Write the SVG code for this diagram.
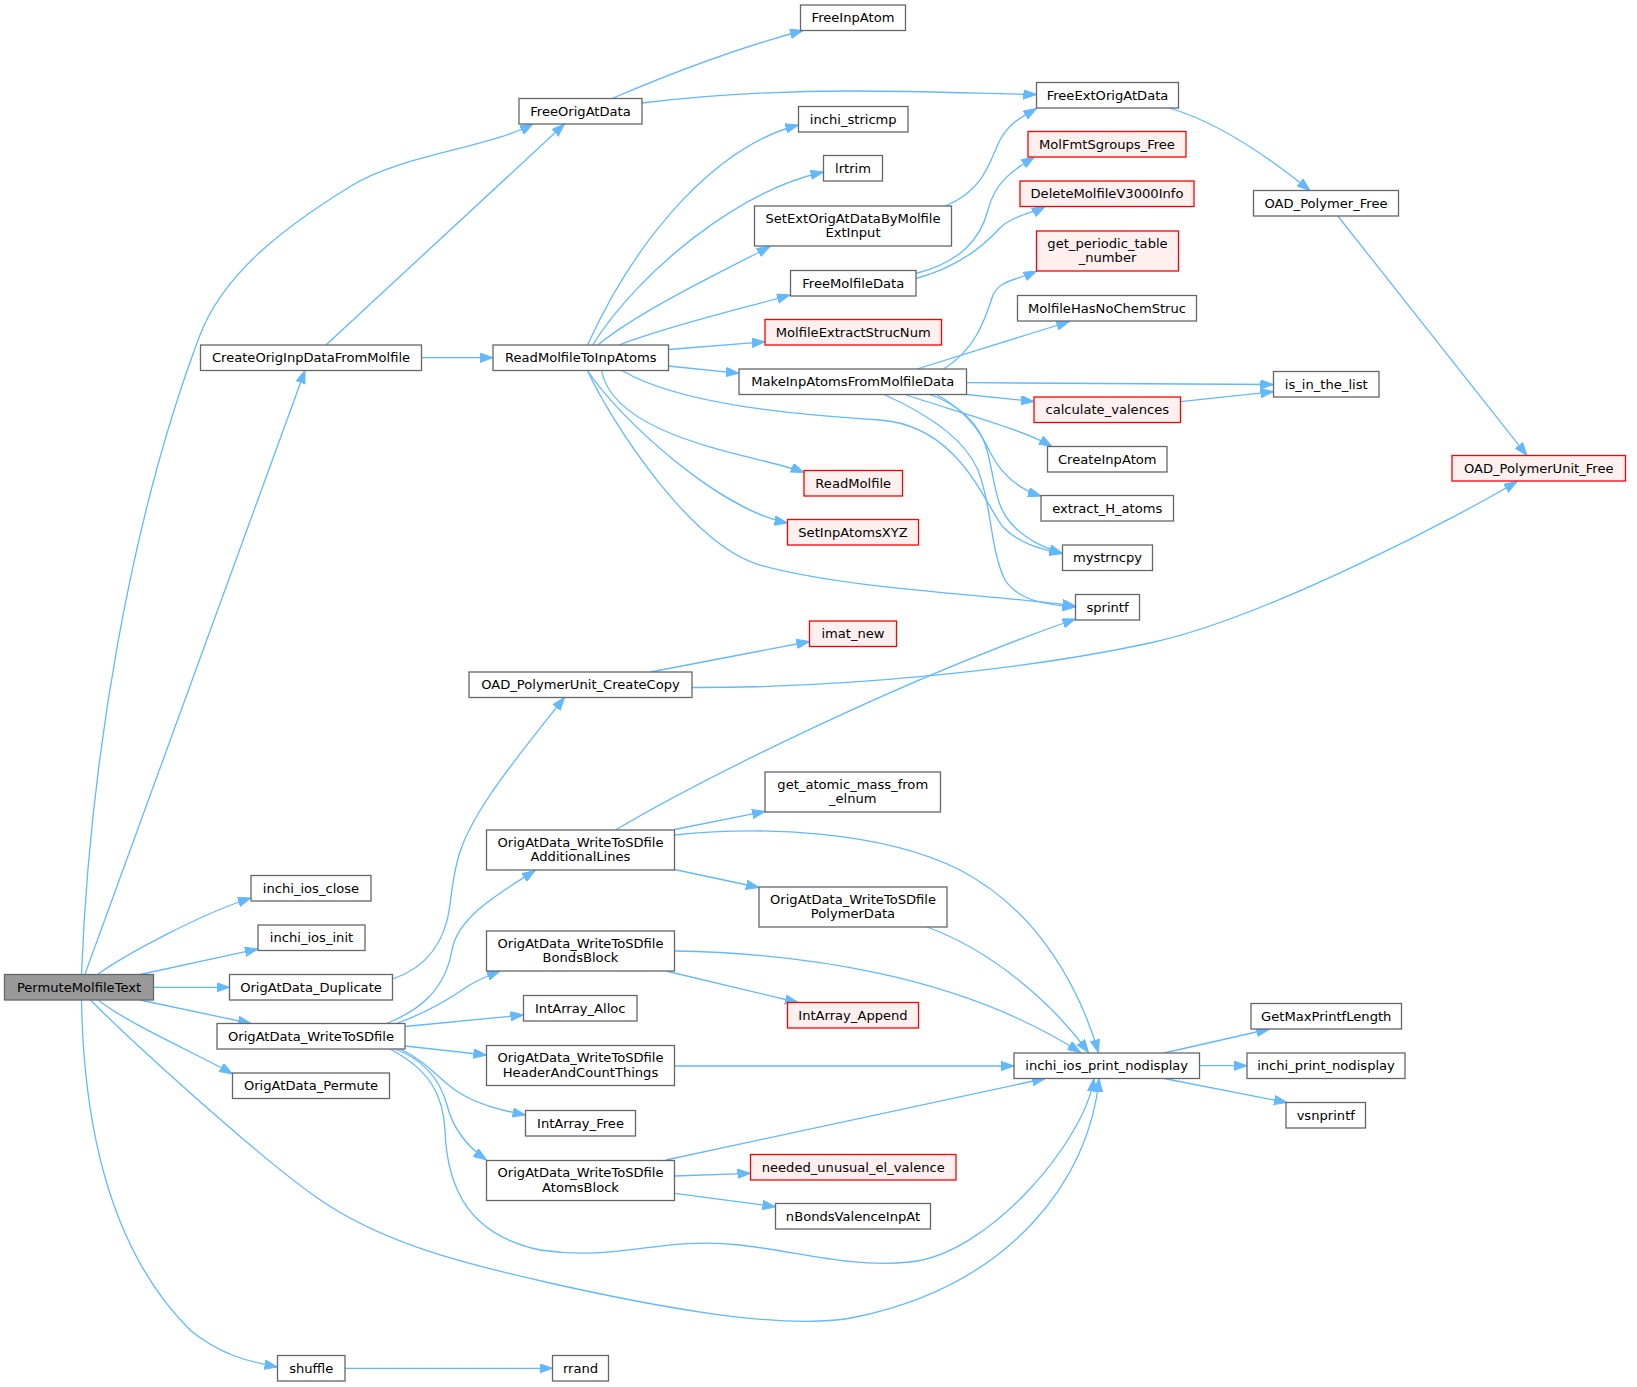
<svg xmlns="http://www.w3.org/2000/svg" width="1637" height="1387" viewBox="0 0 1637 1387">
<defs>
<style>
.n rect{fill:#ffffff;stroke:#666666;stroke-width:1.3}
.r rect{fill:#fff0f0;stroke:#ff0000;stroke-width:1.3}
.root rect{fill:#999999;stroke:#666666;stroke-width:1.3}
text{font-family:"DejaVu Sans","Liberation Sans",sans-serif;font-size:13.1px;text-anchor:middle;fill:#000000}
#edges path{fill:none;stroke:#63b8ff;stroke-width:1.3;marker-end:url(#ah)}
</style>
<marker id="ah" markerWidth="14" markerHeight="10" refX="13" refY="4.7" orient="auto" markerUnits="userSpaceOnUse">
<path d="M0,0 L13,4.7 L0,9.4 z" fill="#63b8ff" stroke="#63b8ff" stroke-width="1"/>
</marker>
</defs>
<rect x="0" y="0" width="1637" height="1387" fill="#ffffff"/>
<g id="edges">
<path d="M81.5,974 C 90,760 130,520 200,335 C 225,270 291,223 351,186 C 401,155 488,148 533,124"/>
<path d="M85,974 L305,370.5"/>
<path d="M98,974 C 125,955 200,914 251,898"/>
<path d="M140,974.5 L258,949"/>
<path d="M153.5,987.3 L229.5,987.3"/>
<path d="M140,1000 L251,1023.5"/>
<path d="M98,1000 C 130,1025 200,1055 232.5,1074"/>
<path d="M90.5,1000 C 125,1035 250,1150 316,1197 C 382,1244 470,1265 550,1283 C 650,1305.5 786,1332 856,1317 C 1010,1285 1090,1180 1099,1078.5"/>
<path d="M81.5,1000 C 84,1150 120,1260 190,1330 C 220,1355 250,1362 277.5,1367"/>
<path d="M326,345 L564.5,124"/>
<path d="M421.5,357.7 L493,357.7"/>
<path d="M612,98.5 C 660,78 730,50 803,30.5"/>
<path d="M642,103 C 700,96 760,91 850,91 C 930,91 990,94 1036.5,94.5"/>
<path d="M587.5,345 C 640,230 720,145 798.5,125"/>
<path d="M592.5,345 C 640,270 740,190 823.5,172"/>
<path d="M598,345 C 640,310 735,265 770,246.5"/>
<path d="M619,345 C 670,325 750,306.5 790,295"/>
<path d="M668.5,349.5 L765,341.7"/>
<path d="M668.5,366 L739,373.3"/>
<path d="M601.5,370.5 C 615,440 760,455 804,472.5"/>
<path d="M587.5,370.5 C 620,420 720,510 787.5,523"/>
<path d="M587.5,370.5 C 610,420 690,545 760,565 C 850,590 1000,595 1075.5,606"/>
<path d="M622,370.5 C 680,405 800,415 880,420 C 960,426 985,505 1003,527 C 1018,543 1040,549 1062.5,553.5"/>
<path d="M943.5,369 C 975,350 985,320 993,295 C 1000,280 1016,280.5 1036.5,271"/>
<path d="M917,369 L1069.5,321.5"/>
<path d="M966.5,382.7 L1273.5,384.5"/>
<path d="M966.5,394.5 L1034,401.5"/>
<path d="M905,394.5 C 950,410 1020,428 1052,446.5"/>
<path d="M936.5,394.5 C 965,410 980,430 990,452 C 1000,472 1015,488 1041,496"/>
<path d="M930,394.5 C 960,405 980,425 987,450 C 995,480 995,505 1010,522 C 1025,540 1045,548 1062.5,553.5"/>
<path d="M884,394.5 C 930,415 965,440 978,470 C 992,505 990,550 1005,580 C 1018,600 1045,605 1075.5,607"/>
<path d="M1169.5,108 C 1210,120 1260,150 1310,190.5"/>
<path d="M1337.8,216 L1527,455.5"/>
<path d="M945,206 C 985,190 990,160 1000,140 C 1010,122 1022,117 1036.5,108.5"/>
<path d="M916,273.5 C 960,262 980,240 988,210 C 995,180 1018,167 1034.5,157"/>
<path d="M916,278.5 C 955,268 980,250 1000,228 C 1012,216 1033,213 1045,206.5"/>
<path d="M1180.3,401.7 L1273.5,391.7"/>
<path d="M650.5,672 L809.5,641.5"/>
<path d="M692,687.5 C 850,688 1030,669 1150,643 C 1270,617 1470,510 1517,481.5"/>
<path d="M392.5,979 C 425,968 445,945 450,905 C 455,860 460,840 490,795 C 510,765 545,722 564.5,697.5"/>
<path d="M386.5,1023.5 C 420,1010 445,990 452,950 C 458,915 505,890 535,870.5"/>
<path d="M396.5,1023.5 C 420,1015 445,1002 465,988 C 475,981 487,976 500,971"/>
<path d="M405,1026.5 L523.5,1015"/>
<path d="M405,1046 L486.5,1055"/>
<path d="M400,1049 C 425,1060 440,1080 455,1090 C 475,1104 500,1110 525.5,1115"/>
<path d="M395,1049 C 425,1060 440,1080 447,1105 C 452,1125 465,1145 486.5,1160"/>
<path d="M390,1049 C 430,1070 443,1095 445,1130 C 447,1190 470,1235 540,1250 C 620,1262 660,1236 740,1245 C 800,1252 850,1268 910,1262 C 990,1254 1085,1140 1094,1078.5"/>
<path d="M615.5,830 C 700,780 900,680 1075.5,619"/>
<path d="M674.5,829.5 L765,811.5"/>
<path d="M674.5,835 C 760,826 880,830 960,870 C 1040,912 1080,990 1098.5,1052.5"/>
<path d="M674.5,869.5 L759,887.5"/>
<path d="M927,927 C 990,950 1050,1000 1088.5,1052.5"/>
<path d="M674.5,951 C 800,953 960,975 1080.5,1052.5"/>
<path d="M668,971.5 L798,1002.5"/>
<path d="M674.5,1066 L1014,1066"/>
<path d="M666,1160 L1045,1078.5"/>
<path d="M674.5,1176 L750.5,1173.3"/>
<path d="M674.5,1193.3 L775.5,1206.7"/>
<path d="M344.8,1368.3 L552.5,1368.3"/>
<path d="M1164,1053 L1269.5,1029"/>
<path d="M1199.5,1065.7 L1247,1065.7"/>
<path d="M1164,1078.5 L1287,1102.5"/>
</g>
<g id="n_PMT" class="root"><rect x="4.5" y="974.5" width="149" height="25.5"/><text x="79" y="991.7">PermuteMolfileText</text></g>
<g id="n_COI" class="n"><rect x="200.5" y="345" width="221" height="25.5"/><text x="311" y="362.2">CreateOrigInpDataFromMolfile</text></g>
<g id="n_FOA" class="n"><rect x="519" y="98.5" width="123" height="25.5"/><text x="580.5" y="115.7">FreeOrigAtData</text></g>
<g id="n_FIA" class="n"><rect x="800.5" y="5" width="105" height="25.5"/><text x="853" y="22.2">FreeInpAtom</text></g>
<g id="n_FEO" class="n"><rect x="1036.5" y="82.5" width="142" height="25.5"/><text x="1107.5" y="99.7">FreeExtOrigAtData</text></g>
<g id="n_STR" class="n"><rect x="798.5" y="106.5" width="109.5" height="25.5"/><text x="853.25" y="123.7">inchi_stricmp</text></g>
<g id="n_LRT" class="n"><rect x="823.5" y="155.5" width="59" height="25.5"/><text x="853" y="172.7">lrtrim</text></g>
<g id="n_SEO" class="n"><rect x="754.5" y="206" width="197" height="40"/><text x="853" y="222.5">SetExtOrigAtDataByMolfile</text><text x="853" y="237">ExtInput</text></g>
<g id="n_FMD" class="n"><rect x="790.5" y="270.5" width="125.5" height="25.5"/><text x="853.25" y="287.7">FreeMolfileData</text></g>
<g id="n_MES" class="r"><rect x="765" y="319.5" width="176.5" height="25.5"/><text x="853.25" y="336.7">MolfileExtractStrucNum</text></g>
<g id="n_RMT" class="n"><rect x="493" y="345" width="175.5" height="25.5"/><text x="580.75" y="362.2">ReadMolfileToInpAtoms</text></g>
<g id="n_MIA" class="n"><rect x="739" y="369" width="227.5" height="25.5"/><text x="852.75" y="386.2">MakeInpAtomsFromMolfileData</text></g>
<g id="n_MFS" class="r"><rect x="1028" y="131.5" width="158" height="25.5"/><text x="1107" y="148.7">MolFmtSgroups_Free</text></g>
<g id="n_DMV" class="r"><rect x="1020" y="181" width="174" height="25.5"/><text x="1107" y="198.2">DeleteMolfileV3000Info</text></g>
<g id="n_GPT" class="r"><rect x="1036.5" y="231" width="142" height="40"/><text x="1107.5" y="247.5">get_periodic_table</text><text x="1107.5" y="262">_number</text></g>
<g id="n_MHN" class="n"><rect x="1017.5" y="295.5" width="179" height="25.5"/><text x="1107" y="312.7">MolfileHasNoChemStruc</text></g>
<g id="n_CV" class="r"><rect x="1034" y="397" width="146.5" height="25.5"/><text x="1107.25" y="414.2">calculate_valences</text></g>
<g id="n_CIA" class="n"><rect x="1047.5" y="446.5" width="119.5" height="25.5"/><text x="1107.25" y="463.7">CreateInpAtom</text></g>
<g id="n_EHA" class="n"><rect x="1041" y="495.5" width="132.5" height="25.5"/><text x="1107.25" y="512.7">extract_H_atoms</text></g>
<g id="n_MSC" class="n"><rect x="1062.5" y="545" width="90" height="25.5"/><text x="1107.5" y="562.2">mystrncpy</text></g>
<g id="n_SPF" class="n"><rect x="1075.5" y="594.5" width="64" height="25.5"/><text x="1107.5" y="611.7">sprintf</text></g>
<g id="n_OPF" class="n"><rect x="1253.5" y="190.5" width="145" height="25.5"/><text x="1326" y="207.7">OAD_Polymer_Free</text></g>
<g id="n_IIL" class="n"><rect x="1273.5" y="371.5" width="105.5" height="25.5"/><text x="1326.25" y="388.7">is_in_the_list</text></g>
<g id="n_OPUF" class="r"><rect x="1452" y="455.5" width="173.5" height="25.5"/><text x="1538.75" y="472.7">OAD_PolymerUnit_Free</text></g>
<g id="n_RMF" class="r"><rect x="804" y="470.5" width="98.5" height="25.5"/><text x="853.25" y="487.7">ReadMolfile</text></g>
<g id="n_SIA" class="r"><rect x="787.5" y="519.5" width="131" height="25.5"/><text x="853" y="536.7">SetInpAtomsXYZ</text></g>
<g id="n_IMN" class="r"><rect x="809.5" y="621" width="87" height="25.5"/><text x="853" y="638.2">imat_new</text></g>
<g id="n_CC" class="n"><rect x="469" y="672" width="223" height="25.5"/><text x="580.5" y="689.2">OAD_PolymerUnit_CreateCopy</text></g>
<g id="n_GAM" class="n"><rect x="765" y="772" width="175.5" height="40"/><text x="852.75" y="788.5">get_atomic_mass_from</text><text x="852.75" y="803">_elnum</text></g>
<g id="n_AL" class="n"><rect x="486.5" y="830" width="188" height="40"/><text x="580.5" y="846.5">OrigAtData_WriteToSDfile</text><text x="580.5" y="861">AdditionalLines</text></g>
<g id="n_PD" class="n"><rect x="759" y="887" width="188" height="40"/><text x="853" y="903.5">OrigAtData_WriteToSDfile</text><text x="853" y="918">PolymerData</text></g>
<g id="n_ICL" class="n"><rect x="251" y="875.5" width="120" height="25.5"/><text x="311" y="892.7">inchi_ios_close</text></g>
<g id="n_IIN" class="n"><rect x="258" y="925" width="107" height="25.5"/><text x="311.5" y="942.2">inchi_ios_init</text></g>
<g id="n_DUP" class="n"><rect x="229.5" y="974.5" width="163" height="25.5"/><text x="311" y="991.7">OrigAtData_Duplicate</text></g>
<g id="n_WSD" class="n"><rect x="217" y="1023.5" width="188" height="25.5"/><text x="311" y="1040.7">OrigAtData_WriteToSDfile</text></g>
<g id="n_PER" class="n"><rect x="232.5" y="1073" width="157" height="25.5"/><text x="311" y="1090.2">OrigAtData_Permute</text></g>
<g id="n_BB" class="n"><rect x="486.5" y="931" width="188" height="40"/><text x="580.5" y="947.5">OrigAtData_WriteToSDfile</text><text x="580.5" y="962">BondsBlock</text></g>
<g id="n_IAA" class="n"><rect x="523.5" y="995.5" width="113.5" height="25.5"/><text x="580.25" y="1012.7">IntArray_Alloc</text></g>
<g id="n_HC" class="n"><rect x="486.5" y="1045.5" width="188" height="40"/><text x="580.5" y="1062">OrigAtData_WriteToSDfile</text><text x="580.5" y="1076.5">HeaderAndCountThings</text></g>
<g id="n_IAF" class="n"><rect x="525.5" y="1110.5" width="110" height="25.5"/><text x="580.5" y="1127.7">IntArray_Free</text></g>
<g id="n_AB" class="n"><rect x="486.5" y="1160.5" width="188" height="40"/><text x="580.5" y="1177">OrigAtData_WriteToSDfile</text><text x="580.5" y="1191.5">AtomsBlock</text></g>
<g id="n_IAP" class="r"><rect x="787.5" y="1002.5" width="131" height="25.5"/><text x="853" y="1019.7">IntArray_Append</text></g>
<g id="n_NUV" class="r"><rect x="750.5" y="1154.5" width="205.5" height="25.5"/><text x="853.25" y="1171.7">needed_unusual_el_valence</text></g>
<g id="n_NBV" class="n"><rect x="775.5" y="1203.5" width="155" height="25.5"/><text x="853" y="1220.7">nBondsValenceInpAt</text></g>
<g id="n_IIP" class="n"><rect x="1014" y="1053" width="185.5" height="25.5"/><text x="1106.75" y="1070.2">inchi_ios_print_nodisplay</text></g>
<g id="n_GMP" class="n"><rect x="1251" y="1003.5" width="150.5" height="25.5"/><text x="1326.25" y="1020.7">GetMaxPrintfLength</text></g>
<g id="n_IPN" class="n"><rect x="1247" y="1053" width="158" height="25.5"/><text x="1326" y="1070.2">inchi_print_nodisplay</text></g>
<g id="n_VSN" class="n"><rect x="1286" y="1102.5" width="79.5" height="25.5"/><text x="1325.75" y="1119.7">vsnprintf</text></g>
<g id="n_SHF" class="n"><rect x="277.5" y="1355.5" width="67.5" height="25.5"/><text x="311.25" y="1372.7">shuffle</text></g>
<g id="n_RRD" class="n"><rect x="552.5" y="1355.5" width="56" height="25.5"/><text x="580.5" y="1372.7">rrand</text></g>
</svg>
